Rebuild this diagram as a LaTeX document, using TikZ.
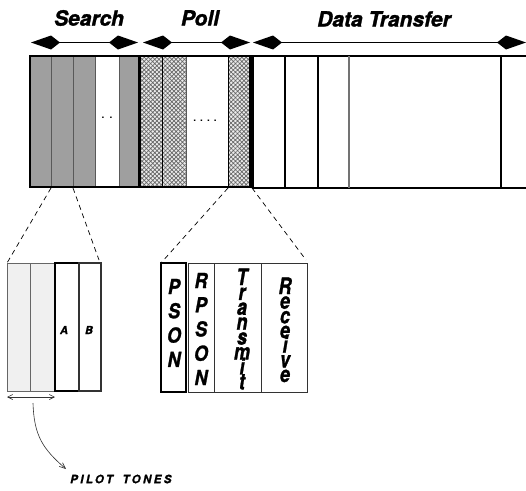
\documentclass[tikz,border=0pt]{standalone}
\usepackage{fontspec}
\setmainfont{TeX Gyre Heros}[BoldItalicFeatures={FakeBold=1.3}]
\usetikzlibrary{arrows.meta,patterns.meta}
\tikzset{
  lbl/.style={font=\fontsize{21}{21}\selectfont\bfseries\itshape, inner sep=0pt},
  kitetip/.tip={Kite[length=29pt,width=14pt,inset=9pt]},
  span/.style={line width=1.4pt, {kitetip}-{kitetip}},
  graycell/.style={fill=gray!75, draw=black!65, line width=0.8pt},
  whitecell/.style={fill=white, draw=black!65, line width=0.8pt},
  meshcell/.style={preaction={fill=gray!15}, pattern={Hatch[angle=45,distance=3pt,line width=0.7pt]}, pattern color=black!60, draw=black, line width=0.8pt},
  frame/.style={draw=black, line width=2pt},
  divider/.style={draw=black, line width=1.2pt},
  zoomline/.style={line width=0.7pt, dash pattern=on 5pt off 4pt},
  lightcell/.style={fill=gray!12, draw=black!60, line width=0.7pt},
  boxcell/.style={fill=white, draw=black, line width=1.5pt},
  thincell/.style={fill=white, draw=black!80, line width=0.9pt},
  dots/.style={font=\fontsize{10}{10}\selectfont\bfseries, inner sep=0pt},
  letter/.style={font=\fontsize{18}{18}\selectfont\bfseries\itshape, inner sep=0pt, anchor=base},
  smalllbl/.style={font=\fontsize{11}{11}\selectfont\bfseries\itshape, inner sep=0pt},
  pointer/.style={line width=0.6pt, draw=black!80},
}
\begin{document}
\begin{tikzpicture}[x=1pt,y=-1pt]
\useasboundingbox (0,0) rectangle (526,490);
% ---------------- top labels and spans
\node[lbl] (search) at (89,18) {Search};
\node[lbl] (poll) at (200,18) {Poll};
\node[lbl] (data) at (384,19) {Data Transfer};
\coordinate (s1) at (31,42.5); \coordinate (s2) at (138,42.5);
\coordinate (p1) at (143,42.5); \coordinate (p2) at (250,42.5);
\coordinate (d1) at (253,42.5); \coordinate (d2) at (526,42.5);
\draw[span] (s1) -- (s2);
\draw[span] (p1) -- (p2);
\draw[span] (d1) -- (d2);
% ---------------- search block
\draw[graycell] (30,56) rectangle (51,187);
\draw[graycell] (51,56) rectangle (73,187);
\draw[graycell] (73,56) rectangle (95,187);
\draw[whitecell] (95,56) rectangle (119,187);
\draw[graycell] (119,56) rectangle (139,187);
\draw[frame] (30,56) rectangle (139,187);
\node[dots] (sdots) at (107,118) {.\hspace{5pt}.};
% ---------------- poll block
\draw[meshcell] (140,56) rectangle (162.5,187);
\draw[meshcell] (162.5,56) rectangle (186,187);
\draw[whitecell] (186,56) rectangle (228,187);
\draw[meshcell] (228,56) rectangle (249,187);
\draw[frame] (140,56) rectangle (251,187);
\node[dots] (pdots) at (205,121) {.\hspace{4pt}.\hspace{4pt}.\hspace{4pt}.};
% ---------------- data transfer block
\draw[frame] (526,56) -- (253,56) -- (253,187.5) -- (526,187.5);
\draw[divider] (285,56) -- (285,187.5);
\draw[divider] (318,56) -- (318,187.5);
\draw[divider, draw=black!55] (349,56) -- (349,187.5);
\draw[divider] (501,56) -- (501,187.5);
% ---------------- zoom-out coordinates
\coordinate (sz1) at (51,188); \coordinate (sz2) at (73,188);
\coordinate (pz1) at (228,188); \coordinate (pz2) at (252,188);
% ---------------- bottom-left detail
\draw[lightcell] (7,263) rectangle (30,391);
\draw[lightcell] (30,263) rectangle (55,391);
\draw[boxcell] (55,263) rectangle (79,391);
\draw[thincell, line width=1.2pt] (79,263) rectangle (101,391);
\node[smalllbl] (A) at (64,330) {A};
\node[smalllbl] (B) at (89,330) {B};
\coordinate (bl1) at (7,263); \coordinate (bl2) at (99,260);
\draw[zoomline] (sz1) -- (bl1);
\draw[zoomline] (sz2) -- (bl2);
\coordinate (pt1) at (7,397); \coordinate (pt2) at (55,397);
\draw[pointer, {Straight Barb[length=5pt,width=5pt]}-{Straight Barb[length=5pt,width=5pt]}] (pt1) -- (pt2);
\node[font=\fontsize{11.5}{11.5}\selectfont\bfseries\itshape\addfontfeatures{LetterSpace=21}, inner sep=0pt, anchor=west] (pilot) at (70,479) {PILOT\hspace{4pt} TONES};
\coordinate (cs) at (33,403);
\coordinate (ce) at (66,469);
\draw[pointer, -{Straight Barb[length=6pt,width=5pt]}] (cs) .. controls (34,436) and (43,449) .. (ce);
% ---------------- bottom-middle detail
\draw[boxcell, line width=2pt] (161,263) rectangle (186,392);
\draw[thincell] (188,263) rectangle (214,392);
\draw[thincell] (214,263) rectangle (261,392);
\draw[thincell] (261,263) rectangle (307,392);
\coordinate (bm1) at (161,263); \coordinate (bm2) at (306,260);
\draw[zoomline] (pz1) -- (bm1);
\draw[zoomline] (pz2) -- (bm2);
\foreach \c [count=\i from 0] in {P,S,O,N}
  \node[letter] (pson\i) at (174,294+24.3*\i) {\scalebox{1}[1.15]{\c}};
\foreach \c [count=\i from 0] in {R,P,S,O,N}
  \node[letter] (rpson\i) at (201,288+24.25*\i) {\scalebox{1}[1.15]{\c}};
\foreach \c [count=\i from 0] in {T,r,a,n,s,m,i,t}
  \node[letter] (transmit\i) at (242,285+14.9*\i) {\scalebox{1}[1.25]{\c}};
\foreach \c [count=\i from 0] in {R,e,c,e,i,v,e}
  \node[letter] (receive\i) at (285,294+14.67*\i) {\scalebox{1}[1.25]{\c}};
\end{tikzpicture}
\end{document}
